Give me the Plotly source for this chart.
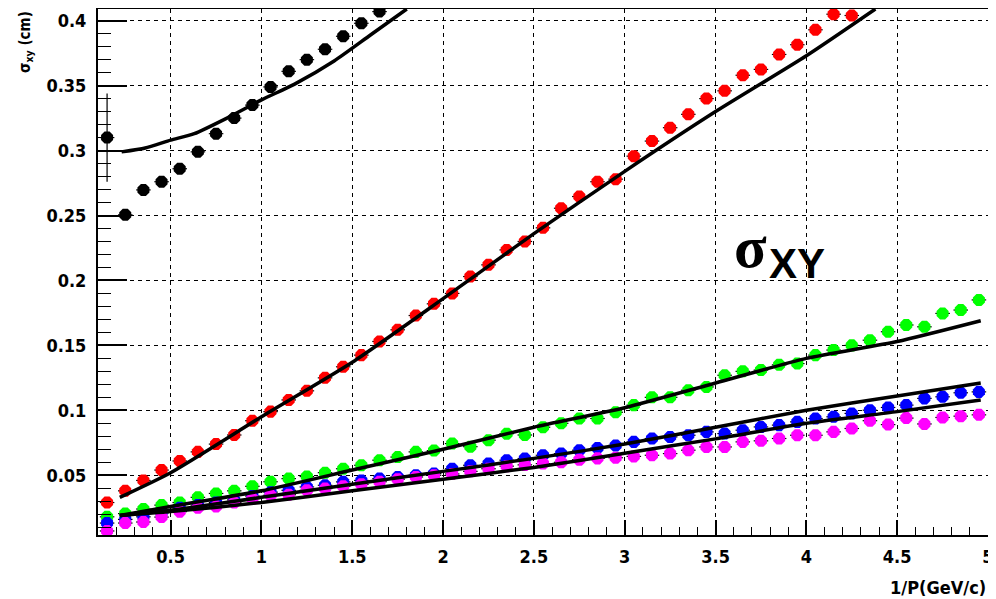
import plotly.graph_objects as go

# ---------------- data ----------------
x_vals = [0.15, 0.25, 0.35, 0.45, 0.55, 0.65, 0.75, 0.85, 0.95,
          1.05, 1.15, 1.25, 1.35, 1.45, 1.55, 1.65, 1.75, 1.85, 1.95,
          2.05, 2.15, 2.25, 2.35, 2.45, 2.55, 2.65, 2.75, 2.85, 2.95,
          3.05, 3.15, 3.25, 3.35, 3.45, 3.55, 3.65, 3.75, 3.85, 3.95,
          4.05, 4.15, 4.25, 4.35, 4.45, 4.55, 4.65, 4.75, 4.85, 4.95]

black_y = [0.310, 0.2505, 0.2697, 0.276, 0.286, 0.299, 0.313, 0.325, 0.335,
           0.349, 0.361, 0.370, 0.378, 0.388, 0.398, 0.407]
black_yerr = [0.034, 0, 0, 0, 0, 0, 0, 0, 0, 0, 0, 0, 0, 0, 0, 0]

red_y = [0.029, 0.038, 0.046, 0.054, 0.061, 0.068, 0.074, 0.081, 0.092,
         0.099, 0.108, 0.115, 0.125, 0.1335, 0.1425, 0.153, 0.162, 0.173, 0.182,
         0.190, 0.203, 0.212, 0.2235, 0.230, 0.2405, 0.2556, 0.2646, 0.276, 0.278,
         0.2957, 0.3073, 0.3176, 0.3279, 0.340, 0.346, 0.358, 0.3625, 0.374, 0.3815,
         0.393, 0.405, 0.404]

green_y = [0.018, 0.0205, 0.024, 0.027, 0.029, 0.033, 0.036, 0.038, 0.0415,
           0.045, 0.0474, 0.049, 0.052, 0.055, 0.0577, 0.0616, 0.064, 0.068, 0.069,
           0.0744, 0.072, 0.077, 0.082, 0.081, 0.087, 0.090, 0.0937, 0.0937, 0.0985,
           0.104, 0.110, 0.110, 0.1155, 0.118, 0.127, 0.130, 0.131, 0.135, 0.136,
           0.1425, 0.1464, 0.150, 0.154, 0.1605, 0.1657, 0.1643, 0.1746, 0.1772, 0.185]

blue_y = [0.0132, 0.016, 0.018, 0.021, 0.025, 0.027, 0.029, 0.031, 0.034,
          0.037, 0.0384, 0.041, 0.0423, 0.0449, 0.046, 0.0474, 0.0487, 0.050, 0.0513,
          0.055, 0.0577, 0.059, 0.0616, 0.0629, 0.0654, 0.0667, 0.0693, 0.071, 0.073,
          0.0757, 0.0783, 0.0795, 0.0808, 0.0834, 0.0821, 0.0847, 0.0872, 0.0886, 0.0911,
          0.0937, 0.095, 0.0976, 0.1001, 0.1022, 0.104, 0.1092, 0.1104, 0.1135, 0.1142]

magenta_y = [0.0071, 0.0132, 0.014, 0.0178, 0.022, 0.025, 0.026, 0.029, 0.032,
             0.0346, 0.035, 0.0384, 0.0397, 0.0415, 0.043, 0.045, 0.047, 0.0487, 0.050,
             0.051, 0.053, 0.055, 0.057, 0.058, 0.059, 0.060, 0.062, 0.063, 0.0635,
             0.0645, 0.0654, 0.0667, 0.0693, 0.0718, 0.0718, 0.0757, 0.0765, 0.0783, 0.0808,
             0.0808, 0.0834, 0.086, 0.092, 0.089, 0.094, 0.0895, 0.0945, 0.0955, 0.0965]

x_err = 0.04

# fit curves
fit_black_x = [0.23, 0.36, 0.5, 0.63, 0.81, 1.0, 1.18, 1.4, 1.6, 1.8]
fit_black_y = [0.299, 0.302, 0.308, 0.313, 0.325, 0.339, 0.351, 0.369, 0.389, 0.409]

fit_red_x = [0.22, 0.5, 1.0, 1.5, 2.0, 2.5, 3.0, 3.5, 4.0, 4.38]
fit_red_y = [0.033, 0.052, 0.095, 0.137, 0.186, 0.236, 0.284, 0.330, 0.373, 0.409]

fit_green_x = [0.22, 0.5, 1.0, 1.5, 2.0, 2.5, 3.0, 3.5, 4.0, 4.5, 4.96]
fit_green_y = [0.019, 0.026, 0.038, 0.054, 0.070, 0.087, 0.102, 0.121, 0.140, 0.153, 0.169]

fit_blue_x = [0.22, 0.5, 1.0, 1.5, 2.0, 2.5, 3.0, 3.5, 4.0, 4.5, 4.96]
fit_blue_y = [0.019, 0.023, 0.033, 0.043, 0.053, 0.063, 0.074, 0.087, 0.100, 0.111, 0.121]

fit_magenta_x = [0.22, 0.5, 1.0, 1.5, 2.0, 2.5, 3.0, 3.5, 4.0, 4.5, 4.96]
fit_magenta_y = [0.019, 0.022, 0.029, 0.038, 0.047, 0.056, 0.067, 0.078, 0.090, 0.099, 0.108]

x_tick_vals = [0.5, 1, 1.5, 2, 2.5, 3, 3.5, 4, 4.5, 5]
x_tick_text = ["0.5", "1", "1.5", "2", "2.5", "3", "3.5", "4", "4.5", "5"]
y_tick_vals = [0.05, 0.1, 0.15, 0.2, 0.25, 0.3, 0.35, 0.4]
y_tick_text = ["0.05", "0.1", "0.15", "0.2", "0.25", "0.3", "0.35", "0.4"]

# ---------------- figure ----------------
NARROW = "DejaVu Sans Condensed, Liberation Sans Narrow, Liberation Sans, sans-serif"
TICKFONT = dict(family=NARROW, size=18, color="black", weight="bold")

fig = go.Figure()

def add_points(xs, ys, color, yerr=None):
    n = len(ys)
    fig.add_trace(go.Scatter(
        x=xs[:n], y=ys, mode="markers",
        marker=dict(symbol="octagon", size=13, color=color, line=dict(width=0)),
        error_x=dict(type="constant", value=x_err, color="black", thickness=1.2, width=0),
        error_y=(dict(type="data", array=yerr, color="black", thickness=1.2, width=0)
                 if yerr is not None else dict(visible=False)),
        showlegend=False, cliponaxis=True,
    ))

add_points(x_vals, black_y, "black", black_yerr)
add_points(x_vals, red_y, "#ff0000")
add_points(x_vals, green_y, "#00ff00")
add_points(x_vals, blue_y, "#0000ff")
add_points(x_vals, magenta_y, "#ff00ff")

for fx, fy in [(fit_black_x, fit_black_y), (fit_red_x, fit_red_y),
               (fit_green_x, fit_green_y), (fit_blue_x, fit_blue_y),
               (fit_magenta_x, fit_magenta_y)]:
    fig.add_trace(go.Scatter(
        x=fx, y=fy, mode="lines",
        line=dict(color="black", width=3.5, shape="spline", smoothing=0.6),
        showlegend=False,
    ))

fig.update_xaxes(
    range=[0.1, 5.0], tickmode="array", tickvals=x_tick_vals, ticktext=x_tick_text,
    ticks="inside", ticklen=15, tickwidth=1.5, tickcolor="black",
    minor=dict(ticks="inside", ticklen=8, dtick=0.1, tick0=0, tickwidth=1.2,
               tickcolor="black", showgrid=False),
    showgrid=True, gridcolor="black", gridwidth=1, griddash="4px,4px",
    showline=True, linecolor="black", linewidth=2, mirror=True,
    tickfont=TICKFONT, zeroline=False, automargin=False, ticklabelstandoff=4,
)
fig.update_yaxes(
    range=[0.004, 0.409], tickmode="array", tickvals=y_tick_vals, ticktext=y_tick_text,
    ticks="inside", ticklen=29, tickwidth=1.5, tickcolor="black",
    minor=dict(ticks="inside", ticklen=13, dtick=0.01, tick0=0, tickwidth=1.2,
               tickcolor="black", showgrid=False),
    showgrid=True, gridcolor="black", gridwidth=1, griddash="4px,4px",
    showline=True, linecolor="black", linewidth=2, mirror=True,
    tickfont=TICKFONT, zeroline=False, ticklabelstandoff=6, automargin=False,
)

# the page adds an 8px body margin, so the figure is sized/offset to compensate
fig.update_layout(
    width=988, height=591,
    margin=dict(l=90, r=8, t=1, b=64),
    plot_bgcolor="white", paper_bgcolor="white",
    showlegend=False,
    annotations=[
        dict(text="1/P(GeV/c)", xref="paper", yref="paper", x=1.0, y=-0.10,
             xanchor="right", yanchor="middle", showarrow=False,
             font=dict(family=NARROW, size=18, color="black", weight="bold")),
        dict(text="σ<sub>xy</sub> (cm)", xref="paper", yref="paper", x=-0.082, y=1.0,
             xanchor="center", yanchor="top", textangle=-90, showarrow=False,
             font=dict(family=NARROW, size=15, color="black", weight="bold")),
        dict(text="<b>σ</b>", xref="paper", yref="paper", x=0.7326, y=0.5475,
             xanchor="center", yanchor="middle", showarrow=False,
             font=dict(family="Liberation Serif, DejaVu Serif, serif", size=60, color="black")),
        dict(text="<b>XY</b>", xref="paper", yref="paper", x=0.7854, y=0.517,
             xanchor="center", yanchor="middle", showarrow=False,
             font=dict(family="Liberation Sans, sans-serif", size=42, color="black")),
    ],
)

fig.write_html("out.html")
